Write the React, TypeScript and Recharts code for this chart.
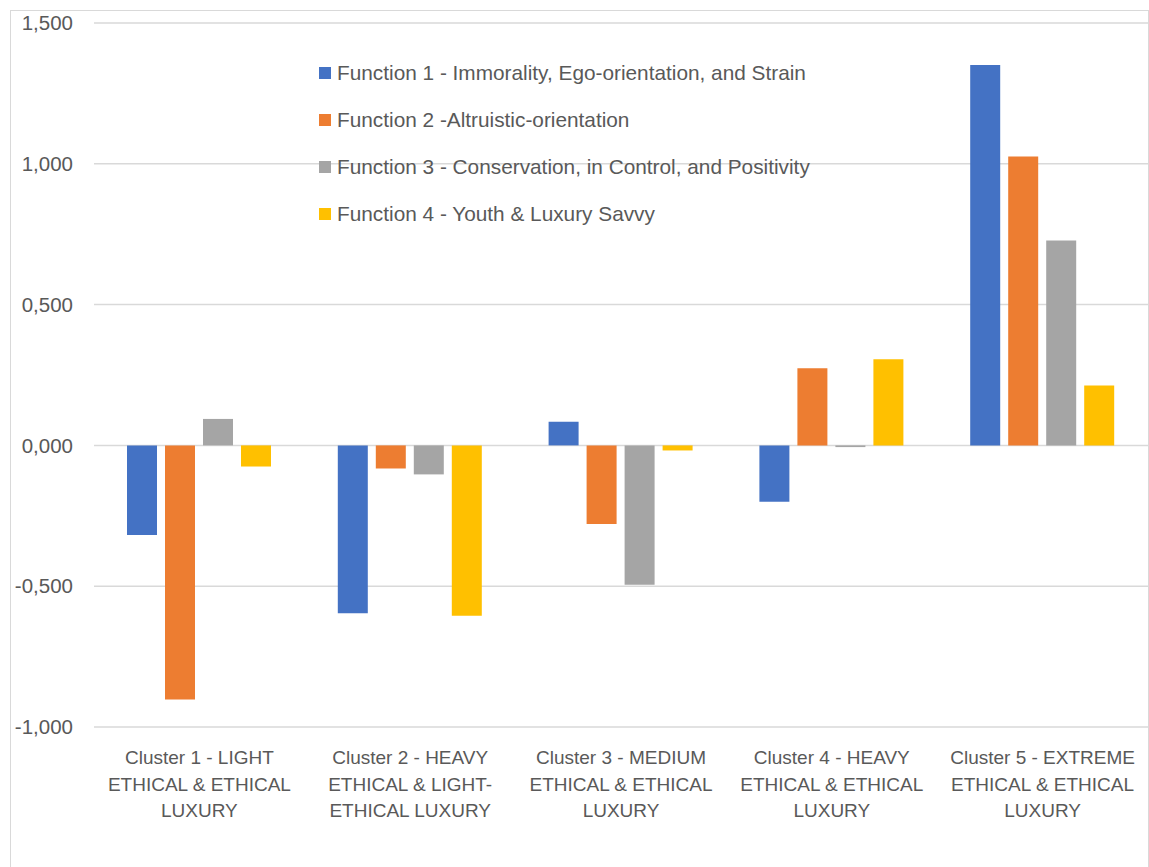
import { BarChart, Bar, XAxis, YAxis, CartesianGrid, Legend } from 'recharts';

const clusters = [
  'Cluster 1 - LIGHT ETHICAL & ETHICAL LUXURY',
  'Cluster 2 - HEAVY ETHICAL & LIGHT-ETHICAL LUXURY',
  'Cluster 3 - MEDIUM ETHICAL & ETHICAL LUXURY',
  'Cluster 4 - HEAVY ETHICAL & ETHICAL LUXURY',
  'Cluster 5 - EXTREME ETHICAL & ETHICAL LUXURY',
];

// how each category label wraps under the axis
const clusterLines = [
  ['Cluster 1 - LIGHT', 'ETHICAL & ETHICAL', 'LUXURY'],
  ['Cluster 2 - HEAVY', 'ETHICAL & LIGHT-', 'ETHICAL LUXURY'],
  ['Cluster 3 - MEDIUM', 'ETHICAL & ETHICAL', 'LUXURY'],
  ['Cluster 4 - HEAVY', 'ETHICAL & ETHICAL', 'LUXURY'],
  ['Cluster 5 - EXTREME', 'ETHICAL & ETHICAL', 'LUXURY'],
];

const function1 = [-0.318, -0.596, 0.084, -0.2, 1.351];
const function2 = [-0.902, -0.082, -0.279, 0.274, 1.026];
const function3 = [0.094, -0.103, -0.495, -0.006, 0.728];
const function4 = [-0.075, -0.605, -0.018, 0.306, 0.213];

const seriesNames = [
  'Function 1 - Immorality, Ego-orientation, and Strain',
  'Function 2 -Altruistic-orientation',
  'Function 3 - Conservation, in Control, and Positivity',
  'Function 4 - Youth & Luxury Savvy',
];
const seriesColors = ['#4472C4', '#ED7D31', '#A5A5A5', '#FFC000'];

const yTicks = [-1, -0.5, 0, 0.5, 1, 1.5];

const data = clusters.map((name, i) => ({
  name,
  f1: function1[i],
  f2: function2[i],
  f3: function3[i],
  f4: function4[i],
}));

const FONT = '"Liberation Sans", Arial, sans-serif';
const TEXT = '#595959';

const fmt = (v: number) => v.toFixed(3).replace('.', ',');

function ClusterTick({ x, y, payload }: any) {
  const lines = clusterLines[payload.index] ?? [payload.value];
  return (
    <text x={x} y={y} textAnchor="middle" fill={TEXT} fontFamily={FONT} fontSize={19}>
      {lines.map((line: string, i: number) => (
        <tspan key={i} x={x} dy={i === 0 ? 37 : 26.5}>
          {line}
        </tspan>
      ))}
    </text>
  );
}

function LegendBox() {
  return (
    <div style={{ display: 'flex', flexDirection: 'column' }}>
      {seriesNames.map((name, i) => (
        <div
          key={name}
          style={{ display: 'flex', alignItems: 'center', height: 47, fontFamily: FONT, fontSize: 20.8, color: TEXT }}
        >
          <div style={{ width: 12, height: 12, background: seriesColors[i], marginRight: 6, flexShrink: 0 }} />
          <span style={{ whiteSpace: 'nowrap' }}>{name}</span>
        </div>
      ))}
    </div>
  );
}

export default function App() {
  return (
    <div style={{ position: 'absolute', left: 0, top: 0, width: 1149, height: 867, background: '#fff', overflow: 'hidden' }}>
      <div
        style={{
          position: 'absolute',
          left: 10,
          top: 10,
          width: 1137,
          height: 880,
          border: '1px solid #d9d9d9',
        }}
      />
      <div style={{ position: 'absolute', left: 0, top: 0 }}>
        <BarChart
          width={1149}
          height={867}
          data={data}
          margin={{ top: 23, right: 1, bottom: 40, left: 14 }}
          barSize={30}
          barGap={8}
        >
          <CartesianGrid vertical={false} stroke="#d9d9d9" strokeWidth={1.5} />
          <XAxis
            dataKey="name"
            axisLine={false}
            tickLine={false}
            tickSize={0}
            tickMargin={0}
            height={100}
            interval={0}
            tick={<ClusterTick />}
          />
          <YAxis
            domain={[-1, 1.5]}
            ticks={yTicks}
            tickFormatter={fmt}
            axisLine={false}
            tickLine={false}
            tickSize={0}
            tickMargin={21}
            width={80}
            tick={{ fill: TEXT, fontFamily: FONT, fontSize: 20.5 }}
          />
          <Legend
            layout="vertical"
            verticalAlign="middle"
            align="center"
            content={<LegendBox />}
            wrapperStyle={{ position: 'absolute', top: 49, left: 319, width: 'auto', height: 'auto' }}
          />
          <Bar dataKey="f1" name={seriesNames[0]} fill={seriesColors[0]} isAnimationActive={false} />
          <Bar dataKey="f2" name={seriesNames[1]} fill={seriesColors[1]} isAnimationActive={false} />
          <Bar dataKey="f3" name={seriesNames[2]} fill={seriesColors[2]} isAnimationActive={false} />
          <Bar dataKey="f4" name={seriesNames[3]} fill={seriesColors[3]} isAnimationActive={false} />
        </BarChart>
      </div>
    </div>
  );
}
